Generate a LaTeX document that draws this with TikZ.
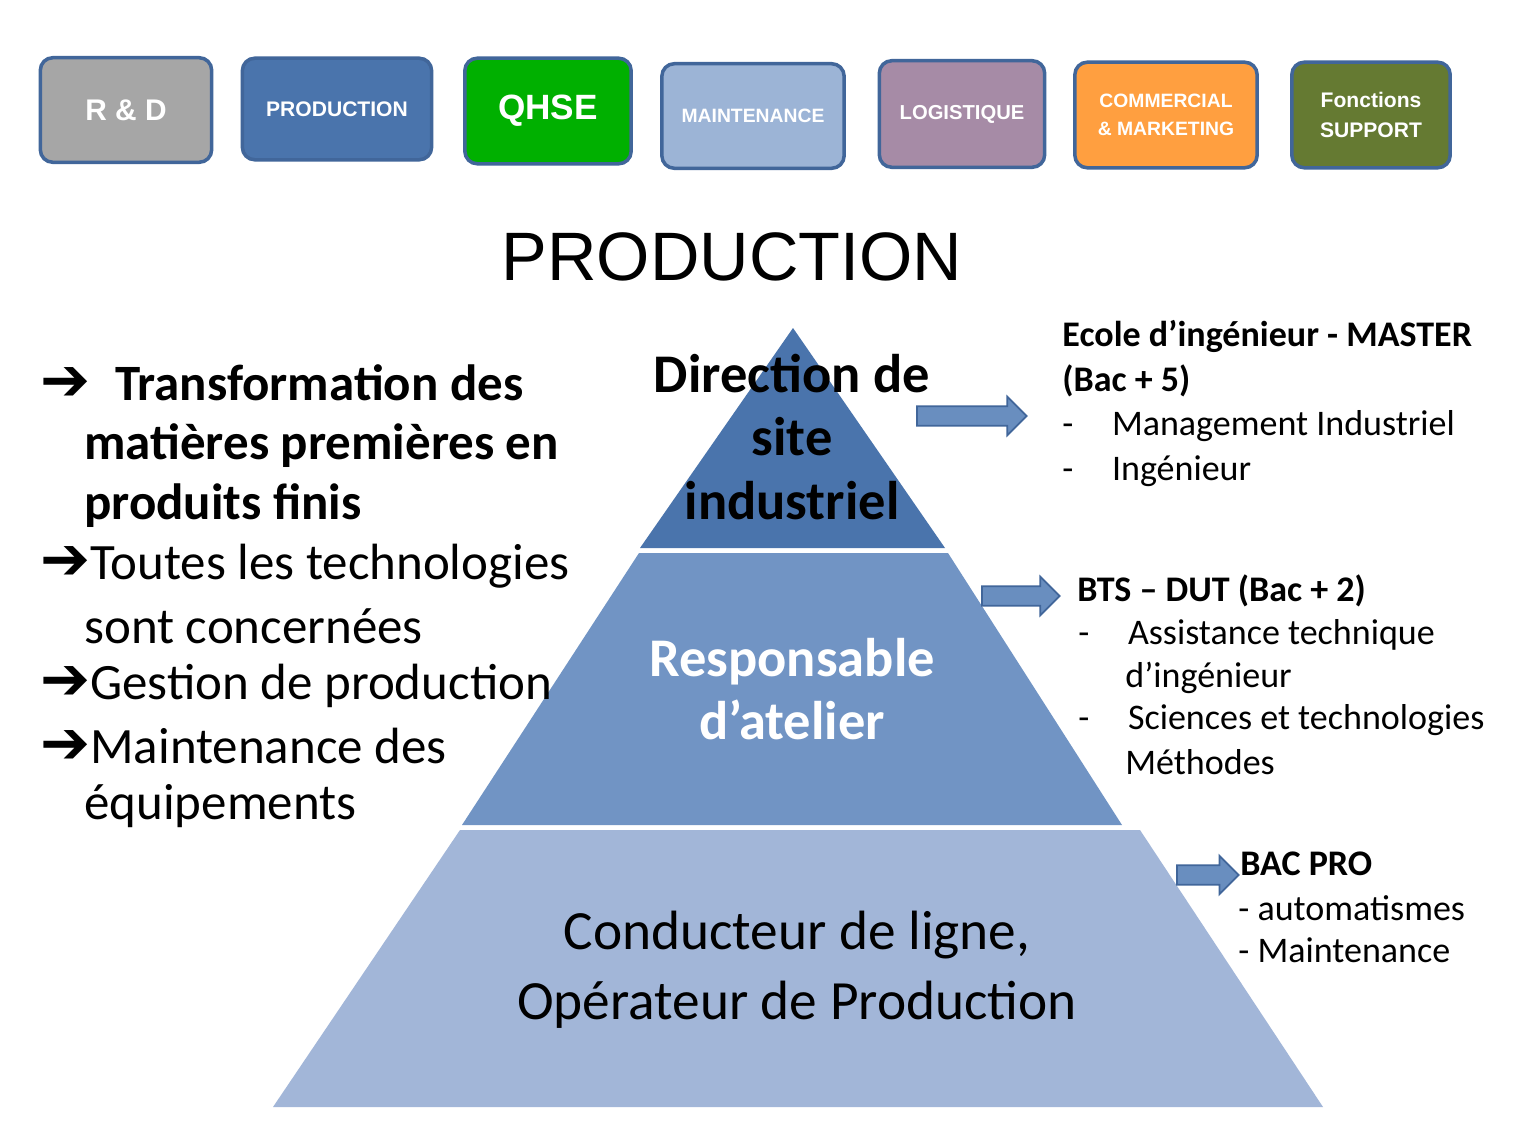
\documentclass[tikz,border=0pt]{standalone}
\usepackage{fontspec}
\setmainfont{Carlito}
\newfontfamily\arialfont{Liberation Sans}
\newfontfamily\symfont{DejaVu Sans}
\usetikzlibrary{shapes.arrows,positioning}
\definecolor{frameblue}{HTML}{41669A}
\definecolor{topband}{HTML}{4A74AC}
\definecolor{midband}{HTML}{7194C4}
\definecolor{lowband}{HTML}{A2B6D8}
\newcommand{\arr}{{\symfont\bfseries\fontsize{34}{34}\selectfont ➔}}
\begin{document}
\begin{tikzpicture}[x=0.02cm,y=-0.02cm,
  dept/.style={draw=frameblue, line width=2pt, rounded corners=2.5mm, text=white,
    font=\arialfont\bfseries, align=center, inner sep=0pt},
  blockarr/.style={single arrow, draw=frameblue, fill=midband!80!topband, line width=1pt,
    minimum height=#1, minimum width=22pt, single arrow head extend=3pt, inner sep=2.5pt},
  lefttxt/.style={anchor=west, font=\fontsize{29}{34}\selectfont, inner sep=0pt},
  righttxt/.style={anchor=west, font=\fontsize{20.5}{25}\selectfont, inner sep=0pt}
]
\useasboundingbox (0,0) rectangle (1521,1125);
\fill[white] (0,0) rectangle (1521,1125);

% departments
\node[dept, fill=black!35, minimum width=172*0.567pt, minimum height=105*0.567pt, font=\arialfont\bfseries\fontsize{17}{22}\selectfont] (rd) at (126,110) {R \& D};
\node[dept, fill=topband, minimum width=190*0.567pt, minimum height=102*0.567pt, font=\arialfont\bfseries\fontsize{12}{16}\selectfont] (prod) at (337,109) {PRODUCTION};
\node[dept, fill=green!69!black, minimum width=167*0.567pt, minimum height=106*0.567pt, font=\arialfont\bfseries\fontsize{20}{26}\selectfont] (qhse) at (548,111) {QHSE};
\node[dept, fill=midband!70!white, minimum width=183*0.567pt, minimum height=105*0.567pt, font=\arialfont\bfseries\fontsize{11}{15}\selectfont] (maint) at (753,116) {MAINTENANCE};
\node[dept, fill=violet!30!gray!70!white, minimum width=166*0.567pt, minimum height=107*0.567pt, font=\arialfont\bfseries\fontsize{11.5}{15}\selectfont] (logi) at (962,114) {LOGISTIQUE};
\node[dept, fill=orange!75!white, minimum width=183*0.567pt, minimum height=106*0.567pt, font=\arialfont\bfseries\fontsize{11}{16}\selectfont] (comm) at (1166,115) {COMMERCIAL\\\& MARKETING};
\node[dept, fill=olive!60!green!70!black, minimum width=159*0.567pt, minimum height=106*0.567pt, font=\arialfont\bfseries\fontsize{12}{17}\selectfont] (supp) at (1371,115) {Fonctions\\SUPPORT};

\node[font=\arialfont\fontsize{39}{46}\selectfont] (title) at (732,257) {PRODUCTION};

% pyramid
\fill[topband] (793,328) -- (945,548) -- (640,548) -- cycle;
\fill[midband] (639,553) -- (948,553) -- (1122,825) -- (462,825) -- cycle;
\fill[lowband] (460,830) -- (1140,830) -- (1323,1107) -- (273,1107) -- cycle;

\node[font=\bfseries\fontsize{31}{36}\selectfont, align=center] (dir) at (792,437) {Direction de\\site\\industriel};
\node[font=\bfseries\fontsize{31}{36}\selectfont, align=center, text=white] (resp) at (792,689) {Responsable\\d’atelier};
\node[font=\fontsize{31.5}{40}\selectfont, align=center] (cond) at (797,970) {Conducteur de ligne,\\Opérateur de Production};

% block arrows
\node[blockarr=110*0.567pt] (a1) at (967,416) {};
\node[blockarr=78*0.567pt] (a2) at (1016,596) {};
\node[blockarr=62*0.567pt] (a3) at (1203,875) {};

% left list
\node[lefttxt, font=\bfseries\fontsize{29}{34}\selectfont] (l1) at (40,383) {\arr\hspace{14pt}Transformation des};
\node[lefttxt, font=\bfseries\fontsize{29}{34}\selectfont] (l2) at (84,446) {matières premières en};
\node[lefttxt, font=\bfseries\fontsize{29}{34}\selectfont] (l3) at (84,506) {produits finis};
\node[lefttxt] (l4) at (40,566) {\arr Toutes les technologies};
\node[lefttxt] (l5) at (84,626) {sont concernées};
\node[lefttxt] (l6) at (40,686) {\arr Gestion de production};
\node[lefttxt] (l7) at (40,746) {\arr Maintenance des};
\node[lefttxt] (l8) at (84,806) {équipements};

% right texts
\node[righttxt, font=\bfseries\fontsize{20.5}{25}\selectfont] (m1) at (1062,336) {Ecole d’ingénieur - MASTER};
\node[righttxt, font=\bfseries\fontsize{20.5}{25}\selectfont] (m2) at (1062,381) {(Bac + 5)};
\node[righttxt] (m3) at (1062,426) {-\hspace{22pt}Management Industriel};
\node[righttxt] (m4) at (1062,471) {-\hspace{22pt}Ingénieur};

\node[righttxt, font=\bfseries\fontsize{20.5}{25}\selectfont] (b1) at (1077,591) {BTS – DUT (Bac + 2)};
\node[righttxt] (b2) at (1078,635) {-\hspace{22pt}Assistance technique};
\node[righttxt] (b3) at (1125,678) {d’ingénieur};
\node[righttxt] (b4) at (1078,720) {-\hspace{22pt}Sciences et technologies};
\node[righttxt] (b5) at (1125,762) {Méthodes};

\node[righttxt, font=\bfseries\fontsize{20.5}{25}\selectfont] (p1) at (1240,864) {BAC PRO};
\node[righttxt] (p2) at (1238,908) {- automatismes};
\node[righttxt] (p3) at (1238,950) {- Maintenance};
\end{tikzpicture}
\end{document}
